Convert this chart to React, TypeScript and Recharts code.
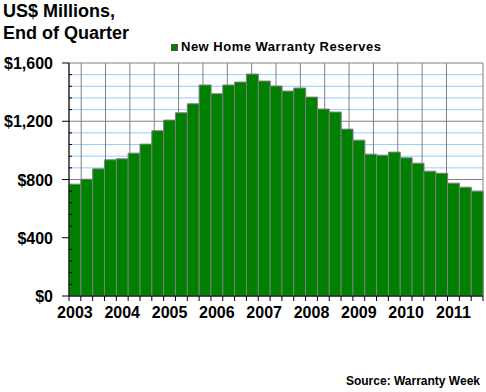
import { Bar, BarChart, CartesianGrid, XAxis, YAxis } from 'recharts';

const quarters = [
  '2003Q1', '2003Q2', '2003Q3', '2003Q4',
  '2004Q1', '2004Q2', '2004Q3', '2004Q4',
  '2005Q1', '2005Q2', '2005Q3', '2005Q4',
  '2006Q1', '2006Q2', '2006Q3', '2006Q4',
  '2007Q1', '2007Q2', '2007Q3', '2007Q4',
  '2008Q1', '2008Q2', '2008Q3', '2008Q4',
  '2009Q1', '2009Q2', '2009Q3', '2009Q4',
  '2010Q1', '2010Q2', '2010Q3', '2010Q4',
  '2011Q1', '2011Q2', '2011Q3',
];

// US$ millions, end of quarter
const reserves = [
  768, 802, 873, 935,
  942, 981, 1043, 1135,
  1208, 1258, 1320, 1449,
  1389, 1449, 1469, 1524,
  1476, 1442, 1407, 1428,
  1366, 1284, 1263, 1146,
  1070, 974, 967, 988,
  949, 912, 857, 843,
  775, 747, 720,
];

const yTicks = [
  0, 80, 160, 240, 320, 400, 480, 560, 640, 720, 800,
  880, 960, 1040, 1120, 1200, 1280, 1360, 1440, 1520, 1600,
];

// boundaries between quarters, for the vertical grid
const gridTicks = quarters.map((_, i) => i).concat(quarters.length);

const data = quarters.map((q, i) => ({ q, reserves: reserves[i] }));

const FONT = '"Liberation Sans", Arial, sans-serif';
const GREEN = '#008000';
const GRAY = '#808080';

const YTick = (props: any) => {
  const { x, y, payload } = props;
  const v = payload.value as number;
  if (v % 400 === 0) {
    return (
      <g>
        <line x1={x - 7} x2={x} y1={y} y2={y} stroke='#000' />
        <text
          x={x - 16}
          y={y + 6}
          textAnchor='end'
          fontFamily={FONT}
          fontWeight='bold'
          fontSize={16}
          fill='#000'
        >
          {'$' + v.toLocaleString('en-US')}
        </text>
      </g>
    );
  }
  return <line x1={x} x2={x + 3} y1={y} y2={y} stroke='#000' />;
};

const XTick = (props: any) => {
  const { x, y, payload, index } = props;
  const half = payload.offset || 5.9;
  const i = payload.index ?? index;
  const value = String(payload.value);
  return (
    <g>
      <line x1={x - half} x2={x - half} y1={y} y2={y + 5} stroke='#000' />
      {i === quarters.length - 1 && (
        <line x1={x + half} x2={x + half} y1={y} y2={y + 5} stroke='#000' />
      )}
      {value.endsWith('Q1') && (
        <text
          x={x}
          y={y + 22}
          textAnchor='middle'
          fontFamily={FONT}
          fontWeight='bold'
          fontSize={16}
          fill='#000'
        >
          {value.slice(0, 4)}
        </text>
      )}
    </g>
  );
};

const HLine = (props: any) => {
  const { x1, x2, y1, y2, index } = props;
  return (
    <line
      key={`h-${index}`}
      x1={x1}
      x2={x2}
      y1={y1}
      y2={y2}
      stroke={index % 5 === 0 ? GRAY : '#99ccff'}
      strokeWidth={1}
    />
  );
};

const App = () => {
  return (
    <div
      style={{
        position: 'absolute',
        left: 0,
        top: 0,
        width: 486,
        height: 392,
        background: '#fff',
      }}
    >
      <BarChart
        width={486}
        height={392}
        data={data}
        barCategoryGap={0}
        margin={{ top: 63, right: 3, left: 8, bottom: 66 }}
      >
        {/* Grid */}
        <CartesianGrid xAxisId='grid' vertical={false} horizontal={HLine} />
        <CartesianGrid
          xAxisId='grid'
          horizontal={false}
          stroke={GRAY}
          strokeWidth={1}
        />

        {/* Axis */}
        <XAxis
          xAxisId='grid'
          type='number'
          orientation='top'
          height={0}
          domain={[0, quarters.length]}
          ticks={gridTicks}
          hide
        />
        <XAxis
          xAxisId='q'
          dataKey='q'
          interval={0}
          height={30}
          tickSize={0}
          tickMargin={0}
          tickLine={false}
          axisLine={{ stroke: '#000' }}
          tick={<XTick />}
        />
        <YAxis
          domain={[0, 1600]}
          ticks={yTicks}
          interval={0}
          width={61}
          tickSize={0}
          tickMargin={0}
          tickLine={false}
          axisLine={{ stroke: '#000' }}
          tick={<YTick />}
        />

        {/* Bars */}
        <Bar
          xAxisId='q'
          dataKey='reserves'
          fill={GREEN}
          stroke={GRAY}
          strokeWidth={1}
          isAnimationActive={false}
        />
      </BarChart>

      {/* Title, legend and source */}
      <svg
        width={486}
        height={392}
        style={{ position: 'absolute', left: 0, top: 0, pointerEvents: 'none' }}
      >
        <g fontFamily={FONT} fontWeight='bold' fill='#000'>
          <text x={3} y={17} fontSize={18}>
            US$ Millions,
          </text>
          <text x={3} y={39} fontSize={18}>
            End of Quarter
          </text>
          <rect x={171.5} y={44.5} width={6} height={6} fill={GREEN} stroke='#555' />
          <text x={181} y={51} fontSize={13} letterSpacing={0.5}>
            New Home Warranty Reserves
          </text>
          <text x={480} y={385} fontSize={12} textAnchor='end'>
            Source: Warranty Week
          </text>
        </g>
      </svg>
    </div>
  );
};

export default App;
